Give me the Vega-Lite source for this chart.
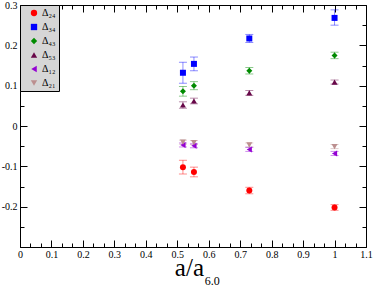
{
  "$schema": "https://vega.github.io/schema/vega-lite/v6.json",
  "width": 346,
  "height": 242,
  "autosize": {"type": "none"},
  "padding": {"left": 20, "top": 5, "right": 8, "bottom": 40},
  "background": "white",
  "config": {
    "view": {"stroke": "black", "strokeWidth": 1},
    "font": "Liberation Serif",
    "axis": {"grid": false, "domain": false, "tickColor": "black", "tickWidth": 1, "labelColor": "black", "labelFont": "Liberation Serif", "labelFontSize": 10, "labelFontWeight": "normal", "title": null},
    "legend": {"orient": "top-left", "offset": 0, "fillColor": "#d6d6d6", "strokeColor": "black", "padding": 3, "labelFont": "Liberation Serif", "labelFontSize": 10, "labelColor": "black", "symbolOffset": 6, "labelOffset": 3, "rowPadding": 4, "symbolSize": 40, "symbolStrokeWidth": 0}
  },
  "data": {
    "values": [
      {"s": "Δ₂₄", "x": 0.518, "y": -0.102, "lo": -0.119, "hi": -0.085},
      {"s": "Δ₂₄", "x": 0.553, "y": -0.114, "lo": -0.126, "hi": -0.102},
      {"s": "Δ₂₄", "x": 0.729, "y": -0.160, "lo": -0.168, "hi": -0.152},
      {"s": "Δ₂₄", "x": 1.0, "y": -0.202, "lo": -0.209, "hi": -0.195},
      {"s": "Δ₃₄", "x": 0.518, "y": 0.132, "lo": 0.106, "hi": 0.158},
      {"s": "Δ₃₄", "x": 0.553, "y": 0.154, "lo": 0.137, "hi": 0.171},
      {"s": "Δ₃₄", "x": 0.729, "y": 0.217, "lo": 0.207, "hi": 0.227},
      {"s": "Δ₃₄", "x": 1.0, "y": 0.268, "lo": 0.250, "hi": 0.288},
      {"s": "Δ₄₃", "x": 0.518, "y": 0.086, "lo": 0.074, "hi": 0.098},
      {"s": "Δ₄₃", "x": 0.553, "y": 0.100, "lo": 0.090, "hi": 0.110},
      {"s": "Δ₄₃", "x": 0.729, "y": 0.137, "lo": 0.129, "hi": 0.145},
      {"s": "Δ₄₃", "x": 1.0, "y": 0.175, "lo": 0.167, "hi": 0.183},
      {"s": "Δ₅₃", "x": 0.518, "y": 0.052, "lo": 0.044, "hi": 0.060},
      {"s": "Δ₅₃", "x": 0.553, "y": 0.062, "lo": 0.055, "hi": 0.069},
      {"s": "Δ₅₃", "x": 0.729, "y": 0.082, "lo": 0.076, "hi": 0.088},
      {"s": "Δ₅₃", "x": 1.0, "y": 0.109, "lo": 0.104, "hi": 0.114},
      {"s": "Δ₁₂", "x": 0.518, "y": -0.047, "lo": -0.052, "hi": -0.042},
      {"s": "Δ₁₂", "x": 0.553, "y": -0.049, "lo": -0.054, "hi": -0.044},
      {"s": "Δ₁₂", "x": 0.729, "y": -0.058, "lo": -0.063, "hi": -0.053},
      {"s": "Δ₁₂", "x": 1.0, "y": -0.068, "lo": -0.073, "hi": -0.063},
      {"s": "Δ₂₁", "x": 0.518, "y": -0.040, "lo": -0.045, "hi": -0.035},
      {"s": "Δ₂₁", "x": 0.553, "y": -0.041, "lo": -0.046, "hi": -0.036},
      {"s": "Δ₂₁", "x": 0.729, "y": -0.047, "lo": -0.052, "hi": -0.042},
      {"s": "Δ₂₁", "x": 1.0, "y": -0.051, "lo": -0.056, "hi": -0.046}
    ]
  },
  "layer": [
    {
      "mark": {"type": "rule", "strokeWidth": 1, "opacity": 0.45},
      "encoding": {
        "x": {"field": "x", "type": "quantitative", "scale": {"domain": [0, 1.1], "nice": false, "zero": false},
          "axis": {"orient": "top", "labels": false, "offset": -7, "tickSize": 7,
            "values": [0,0.1,0.2,0.3,0.4,0.5,0.6,0.7,0.8,0.9,1.0,1.1]}},
        "y": {"field": "lo", "type": "quantitative", "scale": {"domain": [-0.3, 0.3], "nice": false, "zero": false},
          "axis": {"orient": "right", "labels": false, "offset": -7, "tickSize": 7,
            "values": [-0.3,-0.2,-0.1,0,0.1,0.2,0.3]}},
        "y2": {"field": "hi"},
        "color": {"field": "s", "type": "nominal", "legend": null,
          "scale": {"domain": ["Δ₂₄", "Δ₃₄", "Δ₄₃", "Δ₅₃", "Δ₁₂", "Δ₂₁"], "range": ["#ff0000", "#0000ff", "#008b00", "#670748", "#9400d3", "#bc8f8f"]}}
      }
    },
    {
      "mark": {"type": "tick", "orient": "horizontal", "size": 8, "thickness": 1, "opacity": 0.45},
      "encoding": {
        "x": {"field": "x", "type": "quantitative",
          "axis": {"orient": "top", "labels": false, "offset": -4, "tickSize": 4,
            "values": [0.0333,0.0667,0.1333,0.1667,0.2333,0.2667,0.3333,0.3667,0.4333,0.4667,0.5333,0.5667,0.6333,0.6667,0.7333,0.7667,0.8333,0.8667,0.9333,0.9667,1.0333,1.0667]}},
        "y": {"field": "lo", "type": "quantitative",
          "axis": {"orient": "right", "labels": false, "offset": -4, "tickSize": 4,
            "values": [-0.25,-0.15,-0.05,0.05,0.15,0.25]}},
        "color": {"field": "s", "type": "nominal", "legend": null}
      }
    },
    {
      "mark": {"type": "tick", "orient": "horizontal", "size": 8, "thickness": 1, "opacity": 0.45},
      "encoding": {
        "x": {"field": "x", "type": "quantitative",
          "axis": {"orient": "bottom", "labels": false, "offset": -4, "tickSize": 4,
            "values": [0.0333,0.0667,0.1333,0.1667,0.2333,0.2667,0.3333,0.3667,0.4333,0.4667,0.5333,0.5667,0.6333,0.6667,0.7333,0.7667,0.8333,0.8667,0.9333,0.9667,1.0333,1.0667]}},
        "y": {"field": "hi", "type": "quantitative",
          "axis": {"orient": "left", "labels": false, "offset": -4, "tickSize": 4,
            "values": [-0.25,-0.15,-0.05,0.05,0.15,0.25]}},
        "color": {"field": "s", "type": "nominal", "legend": null}
      }
    },
    {
      "mark": {"type": "point", "filled": true, "opacity": 1, "size": 36},
      "encoding": {
        "x": {"field": "x", "type": "quantitative",
          "axis": {"orient": "bottom", "offset": -7, "tickSize": 7, "labelFlush": false, "labelPadding": 2,
            "values": [0,0.1,0.2,0.3,0.4,0.5,0.6,0.7,0.8,0.9,1.0,1.1],
            "labelExpr": "replace(format(datum.value, '~g'), '−', '-')"}},
        "y": {"field": "y", "type": "quantitative",
          "axis": {"orient": "left", "offset": -7, "tickSize": 7, "labelPadding": 3,
            "values": [-0.3,-0.2,-0.1,0,0.1,0.2,0.3],
            "labelExpr": "datum.value > -0.29 ? replace(format(datum.value, '~g'), '−', '-') : ''"}},
        "color": {"field": "s", "type": "nominal", "legend": {"title": null}},
        "shape": {"field": "s", "type": "nominal", "legend": {"title": null},
          "scale": {"domain": ["Δ₂₄", "Δ₃₄", "Δ₄₃", "Δ₅₃", "Δ₁₂", "Δ₂₁"], "range": ["circle", "square", "diamond", "triangle-up", "triangle-left", "triangle-down"]}}
      }
    },
    {
      "data": {"values": [{"t": "a/a"}]},
      "mark": {"type": "text", "align": "right", "baseline": "alphabetic", "fontSize": 25, "fontWeight": 400, "font": "Liberation Serif", "color": "black"},
      "encoding": {
        "text": {"field": "t"},
        "x": {"datum": 0.585, "type": "quantitative", "axis": null},
        "y": {"datum": -0.373, "type": "quantitative", "axis": null}
      }
    },
    {
      "data": {"values": [{"t": "6.0"}]},
      "mark": {"type": "text", "align": "left", "baseline": "alphabetic", "fontSize": 12, "fontWeight": 400, "font": "Liberation Serif", "color": "black"},
      "encoding": {
        "text": {"field": "t"},
        "x": {"datum": 0.587, "type": "quantitative", "axis": null},
        "y": {"datum": -0.394, "type": "quantitative", "axis": null}
      }
    }
  ],
  "resolve": {"axis": {"x": "independent", "y": "independent"}, "legend": {"color": "independent", "shape": "independent"}}
}
